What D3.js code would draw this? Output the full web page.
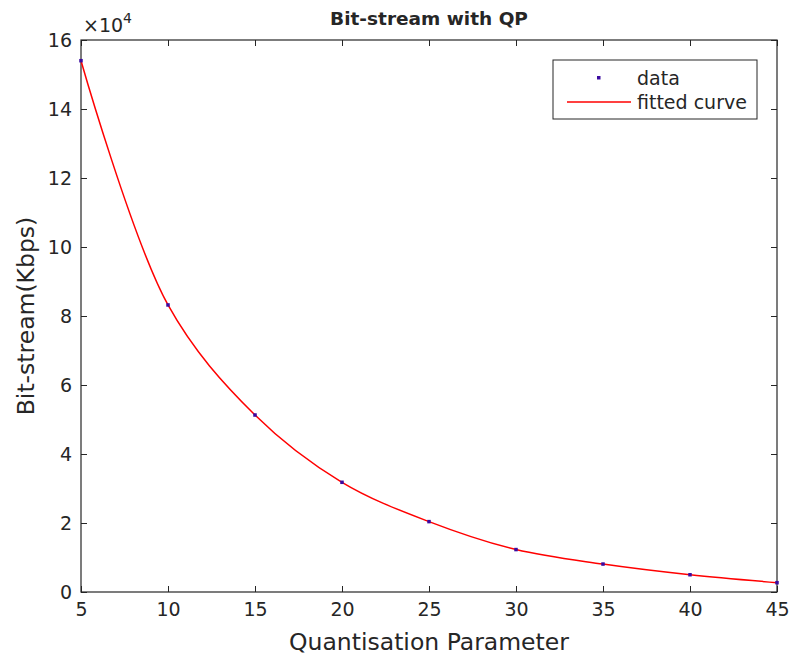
<!DOCTYPE html>
<html>
<head>
<meta charset="utf-8">
<script src="https://cdnjs.cloudflare.com/ajax/libs/d3/7.8.5/d3.min.js"></script>
<style>
  body { margin: 0; background: #fff; }
  text { font-family: "DejaVu Sans", sans-serif; fill: #262626; }
</style>
</head>
<body>
<div id="chart"></div>
<script>
// values (y in units of 1e4 Kbps)
var qp = [5, 10, 15, 20, 25, 30, 35, 40, 45];
var bitstream = [15.4, 8.32, 5.13, 3.18, 2.04, 1.23, 0.81, 0.50, 0.27];
var xTicks = [5, 10, 15, 20, 25, 30, 35, 40, 45];
var yTicks = [0, 2, 4, 6, 8, 10, 12, 14, 16];

var svgWidth = 795;
var svgHeight = 662;
var margin = { top: 40, right: 18, bottom: 70, left: 81 };
var width = svgWidth - margin.left - margin.right;
var height = svgHeight - margin.top - margin.bottom;

var svg = d3.select("#chart")
  .append("svg")
  .attr("width", svgWidth)
  .attr("height", svgHeight);

var chartGroup = svg.append("g")
  .attr("transform", `translate(${margin.left}, ${margin.top})`);

var xScale = d3.scaleLinear().domain([5, 45]).range([0, width]);
var yScale = d3.scaleLinear().domain([0, 16]).range([height, 0]);

var axisColor = "#262626";
var tickLen = 6;

// inward ticks on all four sides, like a matlab box
var bottomAxis = d3.axisBottom(xScale).tickValues(xTicks).tickSize(-tickLen).tickPadding(11);
var leftAxis = d3.axisLeft(yScale).tickValues(yTicks).tickSize(-tickLen).tickPadding(9);
var topAxis = d3.axisTop(xScale).tickValues(xTicks).tickSize(-tickLen).tickFormat("");
var rightAxis = d3.axisRight(yScale).tickValues(yTicks).tickSize(-tickLen).tickFormat("");

function styleAxis(g) {
  g.select(".domain").remove();
  g.selectAll("line").attr("stroke", axisColor);
  g.selectAll("text").style("font-size", "19px").attr("fill", axisColor);
}

chartGroup.append("g")
  .attr("transform", `translate(0, ${height})`)
  .call(bottomAxis)
  .call(styleAxis);

chartGroup.append("g")
  .call(leftAxis)
  .call(styleAxis);

chartGroup.append("g")
  .call(topAxis)
  .call(styleAxis);

chartGroup.append("g")
  .attr("transform", `translate(${width}, 0)`)
  .call(rightAxis)
  .call(styleAxis);

// box
chartGroup.append("rect")
  .attr("width", width)
  .attr("height", height)
  .attr("fill", "none")
  .attr("stroke", axisColor)
  .attr("stroke-width", 1.2);

// fitted curve
var line = d3.line()
  .x((d, i) => xScale(qp[i]))
  .y(d => yScale(d))
  .curve(d3.curveCatmullRom.alpha(0.5));

chartGroup.append("path")
  .datum(bitstream)
  .attr("d", line)
  .attr("fill", "none")
  .attr("stroke", "#ff0000")
  .attr("stroke-width", 1.5);

// data points
chartGroup.selectAll(".pt")
  .data(bitstream)
  .enter()
  .append("rect")
  .attr("class", "pt")
  .attr("x", (d, i) => xScale(qp[i]) - 1.75)
  .attr("y", d => yScale(d) - 1.75)
  .attr("width", 3.5)
  .attr("height", 3.5)
  .attr("fill", "#3a0aa0");

// exponent label
var expLabel = svg.append("text")
  .attr("x", margin.left + 2)
  .attr("y", margin.top - 8)
  .style("font-size", "19px");
expLabel.append("tspan").text("\u00d710");
expLabel.append("tspan").attr("dy", -9).style("font-size", "14px").text("4");

// title
svg.append("text")
  .attr("x", margin.left + width / 2)
  .attr("y", 25)
  .attr("text-anchor", "middle")
  .style("font-size", "18.5px")
  .style("font-weight", "bold")
  .attr("fill", "#000")
  .text("Bit-stream with QP");

// axis labels
svg.append("text")
  .attr("x", margin.left + width / 2)
  .attr("y", 650)
  .attr("text-anchor", "middle")
  .style("font-size", "23.5px")
  .text("Quantisation Parameter");

svg.append("text")
  .attr("transform", `translate(34, ${margin.top + height / 2}) rotate(-90)`)
  .attr("text-anchor", "middle")
  .style("font-size", "23.5px")
  .text("Bit-stream(Kbps)");

// legend
var legend = svg.append("g").attr("transform", "translate(553, 60)");
legend.append("rect")
  .attr("width", 204)
  .attr("height", 59)
  .attr("fill", "#fff")
  .attr("stroke", axisColor)
  .attr("stroke-width", 1);
legend.append("rect")
  .attr("x", 44)
  .attr("y", 16)
  .attr("width", 3.5)
  .attr("height", 3.5)
  .attr("fill", "#3a0aa0");
legend.append("line")
  .attr("x1", 14)
  .attr("x2", 78)
  .attr("y1", 42)
  .attr("y2", 42)
  .attr("stroke", "#ff0000")
  .attr("stroke-width", 1.5);
legend.append("text")
  .attr("x", 84)
  .attr("y", 25)
  .style("font-size", "19px")
  .text("data");
legend.append("text")
  .attr("x", 84)
  .attr("y", 49)
  .style("font-size", "19px")
  .text("fitted curve");
</script>
</body>
</html>
